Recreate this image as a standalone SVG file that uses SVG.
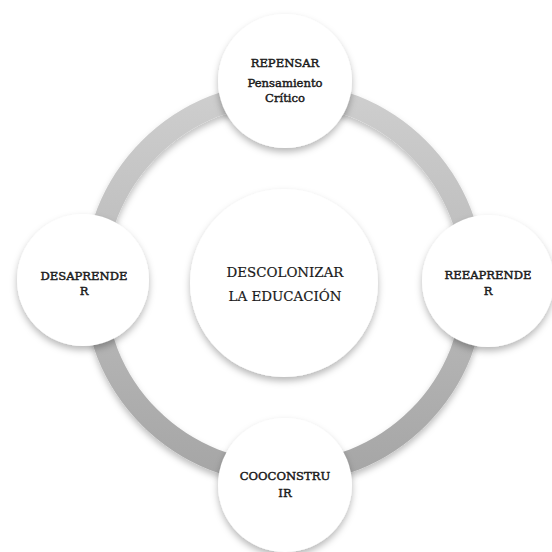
<svg xmlns="http://www.w3.org/2000/svg" width="552" height="552" viewBox="0 0 552 552">
  <defs>
    <filter id="shadow" x="-30%" y="-30%" width="160%" height="170%">
      <feDropShadow dx="0" dy="4" stdDeviation="3.5" flood-color="#000" flood-opacity="0.28"/>
    </filter>
    <filter id="ringShadow" x="-20%" y="-20%" width="140%" height="140%">
      <feDropShadow dx="0" dy="4" stdDeviation="3" flood-color="#000" flood-opacity="0.25"/>
    </filter>
    <linearGradient id="ringGrad" x1="0" y1="0" x2="0" y2="1">
      <stop offset="0" stop-color="#cecece"/>
      <stop offset="1" stop-color="#a6a6a6"/>
    </linearGradient>
    <style>
      .node { fill: #ffffff; filter: url(#shadow); }
      .lbl { font-family: "DejaVu Serif", "Liberation Serif", serif; fill: #1a1a1a; text-anchor: middle; stroke: #1a1a1a; }
      .outer { font-size: 11.6px; stroke-width: 0.45px; }
      .center { font-size: 13.4px; stroke-width: 0.2px; }
    </style>
  </defs>
  <rect width="552" height="552" fill="#ffffff"/>
  <g id="connectors">
    <circle cx="284" cy="283" r="190" fill="none" stroke="url(#ringGrad)" stroke-width="22" filter="url(#ringShadow)"/>
  </g>
  <g id="node-center">
    <circle class="node" cx="284" cy="283" r="94"/>
    <text class="lbl center" x="285" y="277">DESCOLONIZAR</text>
    <text class="lbl center" x="285" y="301">LA EDUCACIÓN</text>
  </g>
  <g id="node-repensar">
    <circle class="node" cx="285" cy="81" r="67"/>
    <text class="lbl outer" x="285" y="67">REPENSAR</text>
    <text class="lbl outer" x="285" y="87">Pensamiento</text>
    <text class="lbl outer" x="285" y="102">Crítico</text>
  </g>
  <g id="node-desaprender">
    <circle class="node" cx="83" cy="280" r="66"/>
    <text class="lbl outer" x="84" y="280">DESAPRENDE</text>
    <text class="lbl outer" x="84" y="295">R</text>
  </g>
  <g id="node-reeaprender">
    <circle class="node" cx="488" cy="281" r="66"/>
    <text class="lbl outer" x="488" y="279">REEAPRENDE</text>
    <text class="lbl outer" x="488" y="295">R</text>
  </g>
  <g id="node-coconstruir">
    <circle class="node" cx="285" cy="485" r="67"/>
    <text class="lbl outer" x="285" y="480">COOCONSTRU</text>
    <text class="lbl outer" x="285" y="497">IR</text>
  </g>
</svg>
